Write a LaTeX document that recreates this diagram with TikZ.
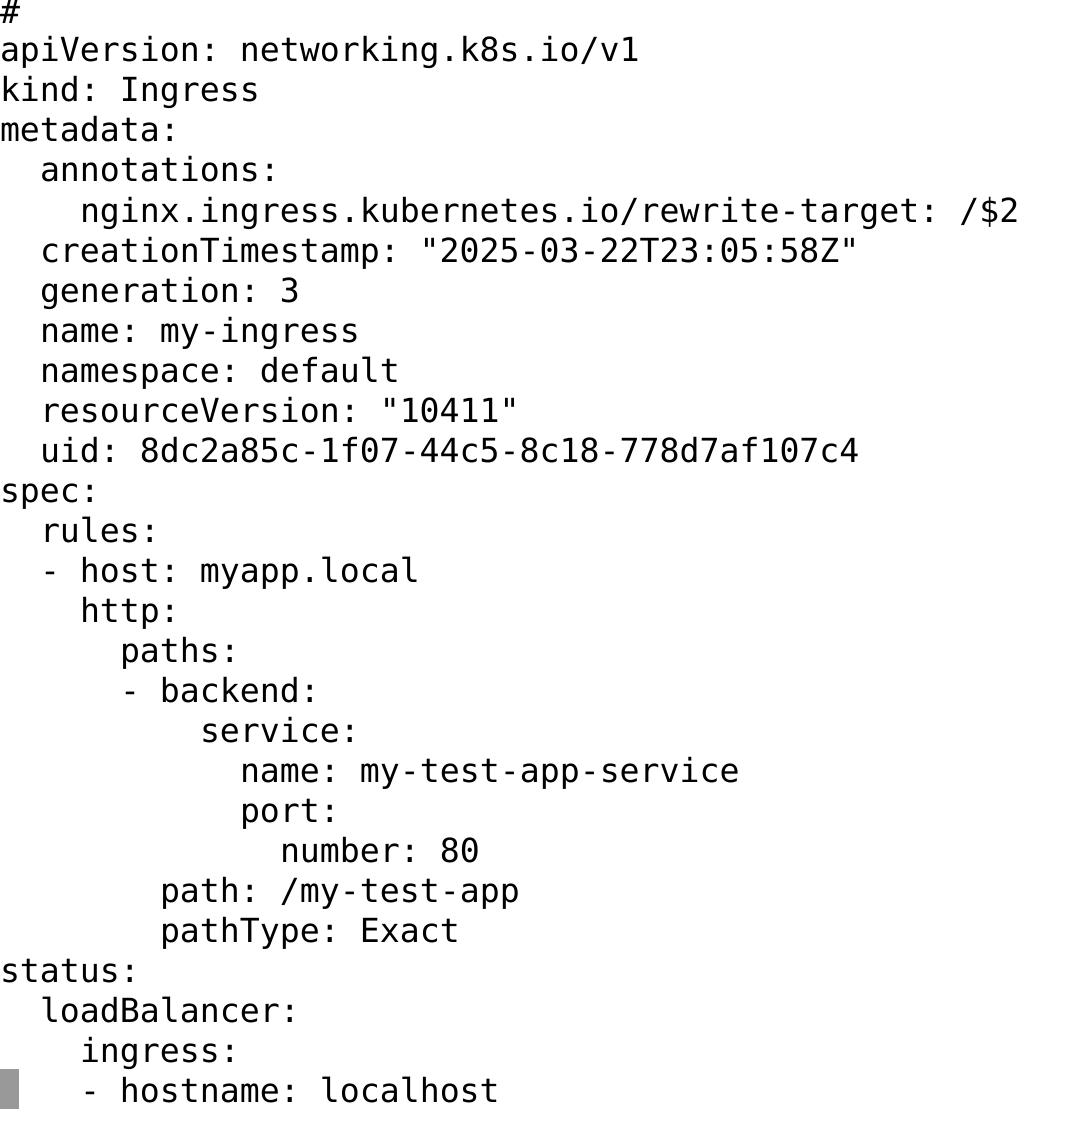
\documentclass[tikz,border=0pt]{standalone}
\usepackage{fontspec}
\newfontfamily\yamlfont{DejaVu Sans Mono}
\usetikzlibrary{positioning}
\definecolor{cursorgray}{RGB}{153,153,153}
\tikzset{
  yaml/.style={anchor=base west, inner sep=0pt, outer sep=0pt,
    font=\yamlfont\fontsize{33.2}{40}\selectfont\frenchspacing},
  cursor/.style={fill=cursorgray, draw=none}
}
\begin{document}
\begin{tikzpicture}[x=1pt, y=1pt]
    \useasboundingbox (0,0) rectangle (1084,-1134);
    % x = 20 per column, baseline = 22 + 40 per line
    \node[yaml] (l00) at (  0,  -24) {\#};
    \node[yaml] (l01) at (  0,  -62) {apiVersion: networking.k8s.io/v1};
    \node[yaml] (l02) at (  0, -102) {kind: Ingress};
    \node[yaml] (l03) at (  0, -142) {metadata:};
    \node[yaml] (l04) at ( 40, -182) {annotations:};
    \node[yaml] (l05) at ( 80, -222) {nginx.ingress.kubernetes.io/rewrite-target: /\$2};
    \node[yaml] (l06) at ( 40, -262) {creationTimestamp: "2025-03-22T23:05:58Z"};
    \node[yaml] (l07) at ( 40, -302) {generation: 3};
    \node[yaml] (l08) at ( 40, -342) {name: my-ingress};
    \node[yaml] (l09) at ( 40, -382) {namespace: default};
    \node[yaml] (l10) at ( 40, -422) {resourceVersion: "10411"};
    \node[yaml] (l11) at ( 40, -462) {uid: 8dc2a85c-1f07-44c5-8c18-778d7af107c4};
    \node[yaml] (l12) at (  0, -502) {spec:};
    \node[yaml] (l13) at ( 40, -542) {rules:};
    \node[yaml] (l14) at ( 40, -582) {- host: myapp.local};
    \node[yaml] (l15) at ( 80, -622) {http:};
    \node[yaml] (l16) at (120, -662) {paths:};
    \node[yaml] (l17) at (120, -702) {- backend:};
    \node[yaml] (l18) at (200, -742) {service:};
    \node[yaml] (l19) at (240, -782) {name: my-test-app-service};
    \node[yaml] (l20) at (240, -822) {port:};
    \node[yaml] (l21) at (280, -862) {number: 80};
    \node[yaml] (l22) at (160, -902) {path: /my-test-app};
    \node[yaml] (l23) at (160, -942) {pathType: Exact};
    \node[yaml] (l24) at (  0, -982) {status:};
    \node[yaml] (l25) at ( 40,-1022) {loadBalancer:};
    \node[yaml] (l26) at ( 80,-1062) {ingress:};
    \node[yaml] (l27) at ( 80,-1102) {- hostname: localhost};
    %
    \fill[cursor] (0,-1069) rectangle (19,-1109);
\end{tikzpicture}
\end{document}
